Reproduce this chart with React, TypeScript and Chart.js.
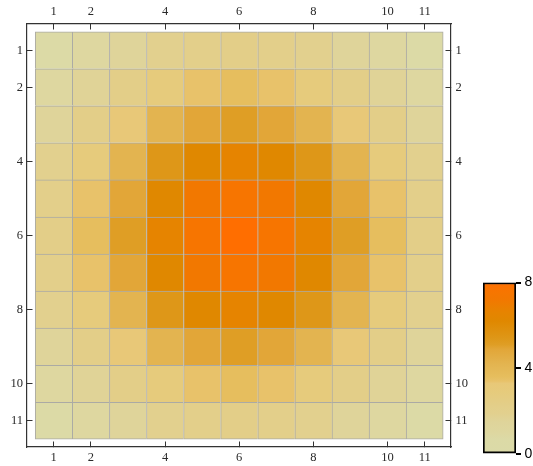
import React, { useEffect, useRef } from "react";
import { Chart, registerables } from "chart.js";

Chart.register(...registerables);

// ---- data ----
const rowLabels = [1, 2, 3, 4, 5, 6, 7, 8, 9, 10, 11];
const colLabels = [1, 2, 3, 4, 5, 6, 7, 8, 9, 10, 11];
const tickLabels = [1, 2, 4, 6, 8, 10, 11];

const row1 = [0.7, 1.0, 1.5, 1.9, 2.2, 2.3, 2.2, 1.9, 1.5, 1.0, 0.7];
const row2 = [1.0, 1.6, 2.3, 2.9, 3.4, 3.6, 3.4, 2.9, 2.3, 1.6, 1.0];
const row3 = [1.5, 2.3, 3.3, 4.2, 4.9, 5.1, 4.9, 4.2, 3.3, 2.3, 1.5];
const row4 = [1.9, 2.9, 4.2, 5.4, 6.2, 6.6, 6.2, 5.4, 4.2, 2.9, 1.9];
const row5 = [2.2, 3.4, 4.9, 6.2, 7.2, 7.6, 7.2, 6.2, 4.9, 3.4, 2.2];
const row6 = [2.3, 3.6, 5.1, 6.6, 7.6, 8.0, 7.6, 6.6, 5.1, 3.6, 2.3];
const row7 = [2.2, 3.4, 4.9, 6.2, 7.2, 7.6, 7.2, 6.2, 4.9, 3.4, 2.2];
const row8 = [1.9, 2.9, 4.2, 5.4, 6.2, 6.6, 6.2, 5.4, 4.2, 2.9, 1.9];
const row9 = [1.5, 2.3, 3.3, 4.2, 4.9, 5.1, 4.9, 4.2, 3.3, 2.3, 1.5];
const row10 = [1.0, 1.6, 2.3, 2.9, 3.4, 3.6, 3.4, 2.9, 2.3, 1.6, 1.0];
const row11 = [0.7, 1.0, 1.5, 1.9, 2.2, 2.3, 2.2, 1.9, 1.5, 1.0, 0.7];
const matrix = [row1, row2, row3, row4, row5, row6, row7, row8, row9, row10, row11];

const legendTicks = [0, 4, 8];
const legendMin = 0;
const legendMax = 8;

// ---- style ----
const colorStops: [number, string][] = [
  [0.0, "#DBDAA8"],
  [0.7, "#DCDAA6"],
  [1.0, "#DED7A0"],
  [1.5, "#DFD49A"],
  [1.9, "#E2D08E"],
  [2.2, "#E3CF8A"],
  [2.3, "#E3CE88"],
  [2.9, "#E6CB7C"],
  [3.3, "#E8C878"],
  [3.4, "#E8C26A"],
  [3.6, "#E6BE5E"],
  [4.2, "#E3B450"],
  [4.9, "#E2A638"],
  [5.1, "#DF9E25"],
  [5.4, "#DE9718"],
  [6.2, "#E08800"],
  [6.6, "#E68400"],
  [7.2, "#F27800"],
  [7.6, "#F77500"],
  [8.0, "#FF6E00"],
];

function hexToRgb(h: string) {
  const n = parseInt(h.slice(1), 16);
  return [(n >> 16) & 255, (n >> 8) & 255, n & 255];
}

function colorFor(v: number) {
  if (v <= colorStops[0][0]) return colorStops[0][1];
  for (let i = 1; i < colorStops.length; i++) {
    const [v1, c1] = colorStops[i];
    if (v <= v1) {
      const [v0, c0] = colorStops[i - 1];
      const t = (v - v0) / (v1 - v0);
      const a = hexToRgb(c0);
      const b = hexToRgb(c1);
      const r = a.map((x, k) => Math.round(x + (b[k] - x) * t));
      return `rgb(${r[0]},${r[1]},${r[2]})`;
    }
  }
  return colorStops[colorStops.length - 1][1];
}

const X_MIN = 0.279;
const X_MAX = 11.71;
const Y_MIN = 0.292;
const Y_MAX = 11.708;

const serif = { family: "'Liberation Serif', 'DejaVu Serif', serif", size: 12.5 };

function frameAxis(position: string, size: number, padding: number, reverse: boolean, horizontal: boolean) {
  return {
    type: "linear",
    position,
    min: horizontal ? X_MIN : Y_MIN,
    max: horizontal ? X_MAX : Y_MAX,
    reverse,
    offset: false,
    afterBuildTicks: (s: any) => {
      s.ticks = tickLabels.map((v) => ({ value: v }));
    },
    afterFit: (s: any) => {
      if (horizontal) s.height = size;
      else s.width = size;
    },
    grid: {
      display: true,
      drawOnChartArea: false,
      drawTicks: true,
      tickLength: -5.5,
      color: "#333",
      lineWidth: 1,
      offset: false,
    },
    border: { display: true, color: "#333", width: 1.2 },
    ticks: {
      font: serif,
      color: "#2a2a2a",
      padding,
      autoSkip: false,
      maxRotation: 0,
      minRotation: 0,
      callback: (v: any) => String(v),
    },
  };
}

export default function App() {
  const mainRef = useRef<HTMLCanvasElement | null>(null);
  const legRef = useRef<HTMLCanvasElement | null>(null);

  useEffect(() => {
    const cells: any[] = [];
    matrix.forEach((row, ri) => {
      row.forEach((v, ci) => {
        const r = rowLabels[ri];
        cells.push({ x: colLabels[ci], y: [r - 0.5, r + 0.5], v });
      });
    });
    const lastCol = colLabels[colLabels.length - 1];
    const lastRow = rowLabels[rowLabels.length - 1];

    const main = new Chart(mainRef.current as HTMLCanvasElement, {
      type: "bar",
      data: {
        datasets: [
          {
            data: cells,
            backgroundColor: (ctx: any) => (ctx.raw ? colorFor(ctx.raw.v) : "#fff"),
            borderColor: "#ABAAA4",
            borderWidth: (ctx: any) => {
              const r = ctx.raw;
              if (!r) return 0;
              return {
                left: 1,
                top: 1,
                right: r.x === lastCol ? 1 : 0,
                bottom: r.y[0] + 0.5 === lastRow ? 1 : 0,
              };
            },
            borderSkipped: false,
            barPercentage: 1,
            categoryPercentage: 1,
            inflateAmount: 0.3,
          } as any,
        ],
      },
      options: {
        animation: false,
        responsive: false,
        maintainAspectRatio: false,
        layout: { padding: 0 },
        plugins: { legend: { display: false }, tooltip: { enabled: false } },
        scales: {
          x: frameAxis("bottom", 19, 8.5, false, true),
          x2: frameAxis("top", 24, 10.5, false, true),
          y: frameAxis("left", 27, 9.5, true, false),
          y2: frameAxis("right", 29, 10, true, false),
        } as any,
      },
    });

    const legend = new Chart(legRef.current as HTMLCanvasElement, {
      type: "bar",
      data: {
        labels: [""],
        datasets: [
          {
            data: [[legendMin, legendMax]],
            backgroundColor: (ctx: any) => {
              const chart = ctx.chart;
              if (!chart.chartArea) return colorStops[0][1];
              const ys = chart.scales.y;
              const g = chart.ctx.createLinearGradient(
                0,
                ys.getPixelForValue(legendMin),
                0,
                ys.getPixelForValue(legendMax)
              );
              colorStops.forEach(([v, c]) =>
                g.addColorStop((v - legendMin) / (legendMax - legendMin), c)
              );
              return g;
            },
            borderColor: "#000",
            borderWidth: 2,
            borderSkipped: false,
            barPercentage: 1,
            categoryPercentage: 1,
          } as any,
        ],
      },
      options: {
        animation: false,
        responsive: false,
        maintainAspectRatio: false,
        layout: { padding: { left: 23, top: 12.5, bottom: 10.5, right: 0 } },
        plugins: { legend: { display: false }, tooltip: { enabled: false } },
        scales: {
          x: { display: false },
          y: {
            type: "linear",
            position: "right",
            min: legendMin,
            max: legendMax,
            afterBuildTicks: (s: any) => {
              s.ticks = legendTicks.map((v) => ({ value: v }));
            },
            afterFit: (s: any) => {
              s.width = 17;
            },
            grid: {
              drawOnChartArea: false,
              drawTicks: true,
              tickLength: 5,
              color: "#000",
              lineWidth: 2,
            },
            border: { display: false },
            ticks: {
              font: { family: "'Liberation Sans', Arial, sans-serif", size: 14 },
              color: "#000",
              padding: 3.5,
              autoSkip: false,
              callback: (v: any) => String(v),
            },
          },
        } as any,
      },
    });

    return () => {
      main.destroy();
      legend.destroy();
    };
  }, []);

  return (
    <div style={{ position: "absolute", left: 0, top: 0, width: 533, height: 466, background: "#fff", overflow: "hidden" }}>
      <canvas ref={mainRef} width={480} height={466} style={{ position: "absolute", left: 0, top: 0 }} />
      <canvas ref={legRef} width={73} height={196} style={{ position: "absolute", left: 460, top: 270 }} />
    </div>
  );
}
